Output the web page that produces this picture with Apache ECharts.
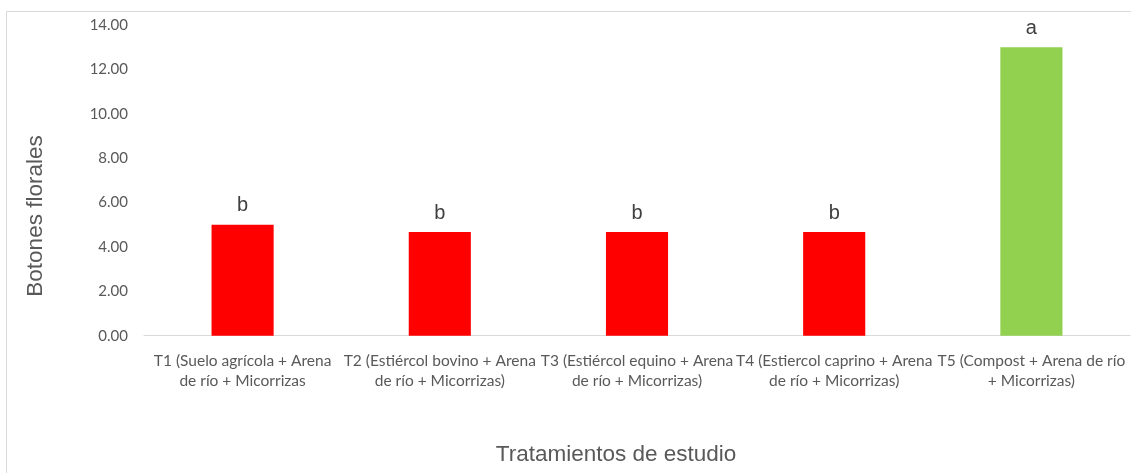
<!DOCTYPE html>
<html>
<head>
<meta charset="utf-8">
<script src="https://cdn.jsdelivr.net/npm/echarts@6/dist/echarts.min.js"></script>
<style>
  html, body { margin: 0; padding: 0; background: #ffffff; }
  #chart { width: 1131px; height: 473px; }
</style>
</head>
<body>
<div id="chart"></div>
<script>
// Treatments (two-line labels as they appear under the axis)
const categories = [
  'T1 (Suelo agrícola + Arena\nde río + Micorrizas',
  'T2 (Estiércol bovino + Arena\nde río + Micorrizas)',
  'T3 (Estiércol equino + Arena\nde río + Micorrizas)',
  'T4 (Estiercol caprino + Arena\nde río + Micorrizas)',
  'T5 (Compost + Arena de río\n+ Micorrizas)'
];
// Mean number of flower buds per treatment
const values = [5.0, 4.67, 4.67, 4.67, 13.0];
// Significance groups
const groups = ['b', 'b', 'b', 'b', 'a'];
// Bar colours per treatment
const barColors = ['#ff0000', '#ff0000', '#ff0000', '#ff0000', '#92d050'];

const yTitle = 'Botones florales';
const xTitle = 'Tratamientos de estudio';

const chart = echarts.init(document.getElementById('chart'), null, { renderer: 'canvas' });

chart.setOption({
  animation: false,
  backgroundColor: '#ffffff',
  grid: { left: 144, right: 1, top: 25, bottom: 137.3, containLabel: false },
  xAxis: {
    type: 'category',
    data: categories,
    axisLine: { show: true, lineStyle: { color: '#d9d9d9', width: 1 } },
    axisTick: { show: false },
    axisLabel: {
      interval: 0,
      margin: 15,
      color: '#595959',
      fontFamily: 'Lato',
      fontSize: 15.5,
      lineHeight: 20,
      align: 'center'
    },
    splitLine: { show: false }
  },
  yAxis: {
    type: 'value',
    min: 0,
    max: 14,
    interval: 2,
    axisLine: { show: false },
    axisTick: { show: false },
    splitLine: { show: false },
    axisLabel: {
      margin: 16,
      color: '#595959',
      fontFamily: 'Lato',
      fontSize: 15,
      formatter: v => v.toFixed(2)
    }
  },
  series: [{
    type: 'bar',
    barWidth: '31.5%',
    data: values.map((v, i) => ({ value: v, itemStyle: { color: barColors[i] } })),
    label: {
      show: true,
      position: 'top',
      distance: 9,
      color: '#404040',
      fontFamily: 'Liberation Sans',
      fontSize: 20,
      formatter: p => groups[p.dataIndex]
    }
  }],
  graphic: [
    // chart frame (left and top edges)
    {
      type: 'polyline',
      shape: { points: [[6.5, 473], [6.5, 11.5], [1131, 11.5]] },
      style: { stroke: '#d9d9d9', lineWidth: 1, fill: null },
      silent: true
    },
    {
      type: 'text',
      x: 36,
      y: 216,
      rotation: Math.PI / 2,
      style: {
        text: yTitle,
        fill: '#595959',
        font: '22.5px "Liberation Sans"',
        align: 'center',
        verticalAlign: 'middle'
      }
    },
    {
      type: 'text',
      x: 616,
      y: 455,
      style: {
        text: xTitle,
        fill: '#595959',
        font: '22.5px "Liberation Sans"',
        align: 'center',
        verticalAlign: 'middle'
      }
    }
  ]
});
</script>
</body>
</html>
